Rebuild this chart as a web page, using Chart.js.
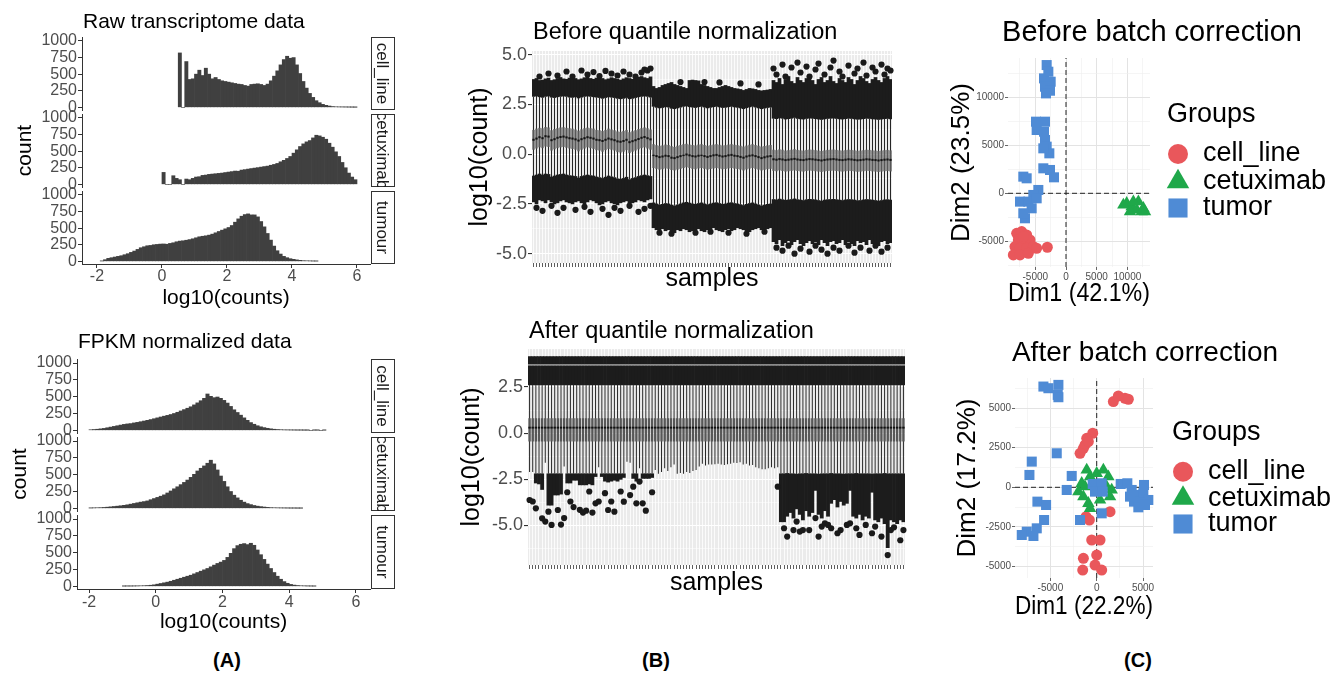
<!DOCTYPE html>
<html>
<head>
<meta charset="utf-8">
<script src="https://cdn.jsdelivr.net/npm/chart.js@4.4.1/dist/chart.umd.min.js"></script>
<style>
  body { margin: 0; width: 1343px; height: 673px; position: relative; overflow: hidden; background: #fff;
         font-family: "Liberation Sans", Arial, sans-serif; }
  canvas { position: absolute; }
  .tag { position: absolute; font-weight: bold; font-size: 20px; transform: translate(-50%, -50%); }
</style>
</head>
<body>
<div class="tag" style="left:227px;top:660px">(A)</div>
<div class="tag" style="left:656px;top:660px">(B)</div>
<div class="tag" style="left:1138px;top:660px">(C)</div>
<script>
console.log("figure start");

/* ---------- (A) histograms: counts per 0.1 bin, first bin centre given ---------- */
const binWidth = 0.1;
const histYTicks = [0, 250, 500, 750, 1000];
const histXTicks = [-2, 0, 2, 4, 6];
const facetNames = ["cell_line", "cetuximab", "tumour"];

const rawStarts = [0.55, 0.05, -1.85];
const rawCellLine = [820, 0, 690, 420, 430, 500, 560, 480, 590, 500,
  430, 450, 420, 400, 390, 380, 370, 360, 350, 345,
  330, 320, 345, 350, 355, 345, 330, 350, 400, 470,
  550, 640, 720, 770, 740, 750, 640, 510, 390, 290,
  210, 150, 100, 70, 45, 30, 20, 12, 8, 6,
  5, 4, 3, 2, 1];
const rawCetuximab = [180, 0, 0, 130, 90, 70, 0, 80, 70, 90,
  110, 115, 135, 140, 150, 155, 160, 165, 170, 178,
  185, 192, 200, 198, 215, 222, 230, 238, 245, 252,
  260, 268, 275, 288, 300, 315, 340, 362, 390, 420,
  470, 520, 570, 610, 640, 660, 700, 740, 730, 710,
  680, 620, 560, 490, 420, 330, 250, 170, 110, 70];
const rawTumour = [5, 25, 45, 55, 65, 75, 85, 100, 115, 135,
  155, 180, 205, 220, 235, 240, 250, 255, 260, 262,
  258, 270, 280, 295, 305, 310, 318, 328, 340, 355,
  370, 378, 385, 395, 410, 430, 450, 470, 490, 510,
  540, 590, 640, 680, 705, 715, 700, 700, 670, 600,
  520, 420, 320, 230, 160, 110, 75, 55, 40, 30,
  22, 15, 10, 8, 6, 4, 3];

const fpkmStarts = [-1.95, -1.95, -0.95];
const fpkmCellLine = [8, 12, 16, 22, 28, 38, 48, 58, 68, 78,
  88, 95, 100, 110, 118, 128, 138, 148, 160, 172,
  185, 198, 210, 222, 235, 250, 268, 288, 308, 328,
  350, 378, 408, 440, 475, 540, 505, 485, 495, 475,
  445, 405, 355, 305, 265, 225, 185, 148, 115, 90,
  68, 52, 40, 30, 22, 16, 12, 9, 6, 5,
  4, 3, 2, 2, 1, 1, 0, 1, 1, 0, 1];
const fpkmCetuximab = [4, 6, 8, 10, 13, 17, 22, 27, 32, 38,
  44, 52, 62, 72, 82, 92, 100, 110, 128, 145,
  162, 180, 200, 228, 258, 290, 320, 352, 385, 420,
  460, 505, 555, 595, 630, 670, 715, 660, 570, 480,
  400, 320, 250, 195, 155, 120, 92, 70, 55, 42,
  32, 25, 19, 14, 10, 8, 6, 5, 4, 3,
  2, 2, 1, 1];
const fpkmTumour = [2, 3, 3, 4, 5, 7, 9, 12, 16, 22,
  32, 42, 52, 62, 75, 90, 105, 120, 135, 150,
  165, 185, 205, 225, 245, 265, 290, 315, 340, 360,
  385, 430, 490, 560, 605, 625, 635, 620, 640, 610,
  540, 470, 400, 330, 265, 205, 150, 105, 70, 45,
  28, 18, 12, 8, 6, 4, 3, 2];

/* ---------- (B) boxplots: 120 samples, 3 batches of 40 ---------- */
const sampleIds = Array.from({ length: 120 }, (_, i) => i + 1);

const beforeMedian = [
  0.72,0.78,0.85,0.8,0.9,0.88,0.7,0.75,0.82,0.86, 0.88,0.84,0.8,0.78,0.74,0.68,0.75,0.8,0.85,0.82,
  0.78,0.72,0.7,0.66,0.72,0.78,0.74,0.7,0.64,0.62, 0.66,0.72,0.6,0.65,0.7,0.76,0.82,0.86,0.8,0.74,
  -0.05,-0.1,-0.15,-0.12,-0.08,-0.1,-0.18,-0.2,-0.15,-0.1, -0.05,-0.02,-0.06,-0.1,-0.12,-0.08,-0.05,-0.1,-0.14,-0.1,
  -0.06,-0.04,-0.08,-0.12,-0.1,-0.06,-0.04,-0.08,-0.1,-0.14, -0.18,-0.12,-0.08,-0.06,-0.1,-0.15,-0.2,-0.16,-0.12,-0.1,
  -0.26,-0.28,-0.25,-0.27,-0.3,-0.28,-0.26,-0.24,-0.27,-0.29, -0.3,-0.27,-0.25,-0.26,-0.28,-0.3,-0.32,-0.29,-0.27,-0.26,
  -0.25,-0.27,-0.29,-0.3,-0.28,-0.26,-0.27,-0.29,-0.31,-0.3, -0.28,-0.26,-0.27,-0.29,-0.3,-0.32,-0.3,-0.28,-0.27,-0.29];
const beforeQ3 = [
  1.22,1.28,1.32,1.3,1.36,1.34,1.2,1.26,1.3,1.34, 1.35,1.32,1.3,1.28,1.24,1.18,1.25,1.3,1.33,1.3,
  1.28,1.22,1.2,1.16,1.22,1.28,1.24,1.2,1.14,1.12, 1.16,1.22,1.1,1.15,1.2,1.26,1.3,1.34,1.3,1.24,
  0.5,0.45,0.42,0.44,0.48,0.46,0.4,0.36,0.42,0.46, 0.5,0.52,0.48,0.46,0.44,0.48,0.5,0.46,0.42,0.45,
  0.48,0.5,0.47,0.44,0.45,0.48,0.5,0.47,0.45,0.42, 0.38,0.43,0.47,0.5,0.46,0.42,0.38,0.41,0.44,0.46,
  0.22,0.2,0.24,0.22,0.18,0.2,0.22,0.25,0.21,0.19, 0.18,0.21,0.23,0.22,0.2,0.18,0.16,0.19,0.21,0.22,
  0.23,0.21,0.19,0.18,0.2,0.22,0.21,0.19,0.17,0.18, 0.2,0.22,0.21,0.19,0.18,0.16,0.18,0.2,0.21,0.19];
const beforeQ1 = [
  0.22,0.28,0.34,0.3,0.38,0.36,0.18,0.24,0.3,0.34, 0.36,0.32,0.28,0.26,0.22,0.14,0.22,0.28,0.34,0.3,
  0.26,0.2,0.18,0.12,0.2,0.26,0.22,0.18,0.1,0.08, 0.12,0.2,0.06,0.12,0.18,0.24,0.3,0.34,0.28,0.22,
  -0.7,-0.74,-0.78,-0.76,-0.72,-0.74,-0.8,-0.82,-0.78,-0.74, -0.7,-0.66,-0.7,-0.74,-0.76,-0.72,-0.7,-0.74,-0.78,-0.75,
  -0.72,-0.7,-0.73,-0.76,-0.75,-0.72,-0.7,-0.73,-0.75,-0.78, -0.82,-0.77,-0.73,-0.7,-0.74,-0.78,-0.82,-0.79,-0.76,-0.74,
  -0.84,-0.86,-0.82,-0.85,-0.88,-0.86,-0.84,-0.82,-0.85,-0.87, -0.88,-0.85,-0.83,-0.84,-0.86,-0.88,-0.9,-0.87,-0.85,-0.84,
  -0.83,-0.85,-0.87,-0.88,-0.86,-0.84,-0.85,-0.87,-0.89,-0.88, -0.86,-0.84,-0.85,-0.87,-0.88,-0.9,-0.88,-0.86,-0.85,-0.87];
const beforeWhiskerHi = [
  2.9,2.92,2.88,2.85,2.9,2.92,2.86,2.84,2.88,2.9, 2.92,2.9,2.86,2.85,2.88,2.82,2.86,2.9,2.92,2.9,
  2.88,2.86,2.84,2.8,2.84,2.88,2.86,2.84,2.8,2.78, 2.8,2.84,2.78,2.8,2.84,2.88,2.9,2.92,2.9,2.86,
  2.4,2.35,2.32,2.34,2.38,2.36,2.3,2.28,2.32,2.36, 2.4,2.42,2.38,2.36,2.34,2.38,2.4,2.36,2.32,2.35,
  2.38,2.4,2.37,2.34,2.35,2.38,2.4,2.37,2.35,2.32, 2.28,2.33,2.37,2.4,2.36,2.32,2.28,2.31,2.34,2.36,
  1.8,1.78,1.82,1.8,1.76,1.78,1.8,1.84,1.79,1.77, 1.76,1.79,1.81,1.8,1.78,1.76,1.74,1.77,1.79,1.8,
  1.81,1.79,1.77,1.76,1.78,1.8,1.79,1.77,1.75,1.76, 1.78,1.8,1.79,1.77,1.76,1.74,1.76,1.78,1.79,1.77];
const beforeWhiskerLo = [
  -1.1,-1.05,-1.0,-1.05,-1.0,-1.02,-1.15,-1.1,-1.05,-1.02, -1.0,-1.05,-1.08,-1.1,-1.12,-1.2,-1.12,-1.08,-1.05,-1.08,
  -1.1,-1.15,-1.18,-1.22,-1.16,-1.1,-1.14,-1.18,-1.24,-1.26, -1.22,-1.16,-1.28,-1.22,-1.18,-1.12,-1.08,-1.05,-1.08,-1.12,
  -2.45,-2.5,-2.55,-2.52,-2.48,-2.5,-2.56,-2.6,-2.55,-2.5, -2.45,-2.42,-2.46,-2.5,-2.52,-2.48,-2.45,-2.5,-2.54,-2.5,
  -2.46,-2.44,-2.48,-2.52,-2.5,-2.46,-2.44,-2.48,-2.5,-2.54, -2.58,-2.52,-2.48,-2.45,-2.5,-2.55,-2.6,-2.56,-2.52,-2.5,
  -2.28,-2.3,-2.26,-2.29,-2.32,-2.3,-2.28,-2.25,-2.29,-2.31, -2.33,-2.29,-2.27,-2.28,-2.3,-2.33,-2.36,-2.31,-2.29,-2.28,
  -2.27,-2.29,-2.31,-2.33,-2.3,-2.28,-2.29,-2.31,-2.34,-2.33, -2.3,-2.28,-2.29,-2.31,-2.33,-2.36,-2.33,-2.3,-2.29,-2.31];
// extent of the dense outlier clouds above / below the whiskers
const beforeOutHi = [
  3.75,3.8,3.7,3.72,3.78,3.82,3.7,3.74,3.8,3.85, 3.78,3.76,3.82,3.86,3.8,3.74,3.78,3.84,3.88,3.8,
  3.76,3.82,3.86,3.8,3.74,3.78,3.84,3.8,3.76,3.72, 3.78,3.84,3.8,3.76,3.82,3.86,3.9,3.84,3.8,3.88,
  3.4,3.3,3.35,3.45,3.5,3.55,3.6,3.5,3.45,3.4, 3.35,3.3,3.7,3.72,3.7,3.68,3.5,3.45,3.4,3.35,
  3.3,3.3,3.35,3.4,3.45,3.4,3.35,3.3,3.28,3.25, 3.2,3.25,3.3,3.28,3.25,3.2,3.18,3.2,3.22,3.25,
  3.7,3.6,3.8,3.5,3.75,3.9,3.65,3.55,3.85,3.7, 3.6,3.8,3.95,3.7,3.5,3.75,3.85,3.6,3.7,3.9,
  3.65,3.55,3.8,3.7,3.6,3.85,3.75,3.5,3.7,3.9, 3.8,3.65,3.55,3.75,3.85,3.7,3.6,3.8,3.9,3.75];
const beforeOutLo = [
  -2.4,-2.5,-2.3,-2.35,-2.45,-2.3,-2.4,-2.5,-2.45,-2.35, -2.3,-2.4,-2.45,-2.5,-2.4,-2.35,-2.45,-2.5,-2.4,-2.3,
  -2.35,-2.45,-2.55,-2.5,-2.4,-2.35,-2.45,-2.5,-2.55,-2.45, -2.4,-2.35,-2.5,-2.45,-2.4,-2.3,-2.35,-2.4,-2.3,-2.25,
  -3.7,-3.8,-3.9,-3.75,-3.85,-3.8,-3.9,-3.95,-3.8,-3.85, -3.75,-3.8,-3.9,-3.85,-3.8,-3.75,-3.85,-3.9,-3.8,-3.75,
  -3.7,-3.8,-3.85,-3.9,-3.8,-3.75,-3.85,-3.8,-3.7,-3.75, -3.8,-3.85,-3.9,-3.8,-3.75,-3.7,-3.8,-3.85,-3.75,-3.7,
  -4.4,-4.5,-4.3,-4.6,-4.45,-4.35,-4.55,-4.4,-4.3,-4.5, -4.6,-4.45,-4.35,-4.5,-4.4,-4.55,-4.3,-4.45,-4.6,-4.4,
  -4.35,-4.5,-4.45,-4.3,-4.55,-4.4,-4.5,-4.6,-4.35,-4.45, -4.4,-4.55,-4.3,-4.5,-4.45,-4.6,-4.4,-4.35,-4.5,-4.45];
const beforeDots = [
  [3,3.9],[6,4.05],[9,3.95],[12,4.15],[14,3.9],[17,4.2],[19,4.0],[21,4.12],[23,3.92],[25,4.18],
  [27,4.05],[29,3.95],[31,4.15],[33,4.0],[35,3.9],[37,4.1],[38,4.25],[39,4.2],[40,4.3],
  [2,-2.7],[4,-2.85],[7,-2.6],[9,-2.95],[11,-2.7],[15,-2.8],[18,-2.65],[20,-2.9],[24,-2.75],[26,-3.05],
  [28,-2.7],[30,-2.85],[33,-2.6],[36,-2.9],[38,-2.75],[40,-2.6],
  [50,3.62],[58,3.62],[63,3.6],[70,3.55],[76,3.5],
  [43,-3.95],[47,-4.0],[55,-3.95],[60,-3.9],[66,-3.95],[72,-4.0],[78,-3.9],
  [81,4.3],[82,4.0],[84,4.5],[85,3.9],[87,4.35],[89,4.6],[90,4.1],[92,4.4],[93,3.9],[95,4.25],
  [96,4.55],[98,4.0],[100,4.35],[101,4.7],[103,4.15],[104,3.9],[106,4.45],[108,4.05],[109,4.3],[111,4.6],
  [112,3.95],[114,4.35],[115,4.15],[117,4.5],[118,4.0],[119,4.3],[120,4.2],
  [82,-4.7],[84,-4.85],[86,-4.6],[88,-5.0],[90,-4.75],[93,-4.9],[95,-4.6],[97,-4.8],[99,-5.0],[101,-4.7],
  [103,-4.85],[106,-4.6],[108,-4.95],[110,-4.7],[113,-4.85],[115,-4.6],[117,-4.9],[119,-4.7]];

// after quantile normalisation every sample shares the same box
const afterQ1 = -0.45, afterMedian = 0.3, afterQ3 = 0.81, afterWhiskerHi = 2.62, afterOutHi = 4.15, afterSeam = 3.7;
const afterWhiskerLo = [
  -2.1,-2.1,-2.2,-2.2,-2.2,-1.6,-2.2,-2.2,-2.2,-2.2, -2.2,-1.8,-2.2,-2.2,-2.2,-2.2,-2.2,-2.2,-2.2,-2.2,
  -2.2,-2.2,-1.85,-2.2,-2.2,-2.2,-2.2,-2.2,-2.2,-2.2, -2.2,-1.55,-1.6,-2.2,-2.2,-1.9,-2.2,-2.2,-2.2,-2.2,
  -2.0,-2.2,-2.1,-1.9,-2.05,-1.85,-1.7,-2.2,-2.15,-2.2, -2.1,-2.15,-2.05,-2.0,-1.8,-1.65,-1.75,-1.7,-1.7,-1.68,
  -1.65,-1.7,-1.72,-1.68,-1.65,-1.6,-1.62,-1.58,-1.7,-1.65, -1.75,-1.72,-1.85,-1.9,-1.95,-1.95,-1.9,-1.85,-1.9,-1.85,
  -2.2,-2.2,-2.18,-2.2,-2.2,-2.22,-2.2,-2.2,-2.18,-2.2, -2.2,-2.2,-2.22,-2.2,-2.2,-2.2,-2.18,-2.2,-2.2,-2.2,
  -2.22,-2.2,-2.2,-2.2,-2.18,-2.2,-2.2,-2.2,-2.2,-2.22, -2.2,-2.2,-2.2,-2.18,-2.2,-2.2,-2.2,-2.2,-2.2,-2.2];
const afterOutLoBatch1 = [null,null,-2.7,-2.75,-3.05,null,-3.9,-3.9,-3.35,-3.35, -3.3,null,-2.7,-2.7,-2.55,-2.55,-2.8,-2.8,-2.8,-2.75,
  -2.8,-2.35,null,-2.35,-2.6,-2.65,-2.6,-2.55,-2.6,-2.5, -2.4,null,null,-2.45,-2.6,null,-2.45,-2.45,-2.45,-2.4];
const afterOutLoBatch3 = [-4.8,-4.8,-4.5,-4.3,-4.6,-4.1,-4.4,-4.7,-4.2,-4.5, -4.3,-3.1,-4.4,-4.6,-4.2,-4.5,-3.8,-3.6,-4.0,-3.7,
  -3.9,-3.8,-3.1,-4.5,-4.6,-4.4,-4.7,-4.5,-4.6,-3.2, -4.7,-4.8,-4.6,-4.9,-6.2,-4.7,-4.8,-4.9,-4.7,-4.8];
const afterOutLo = [...afterOutLoBatch1, ...Array(40).fill(null), ...afterOutLoBatch3];
const afterDots = [
  [1,-3.62],[2,-3.7],[3,-4.07],[5,-4.61],[6,-4.79],[7,-4.25],[8,-4.97],[10,-4.16],[11,-4.95],[12,-4.6],
  [13,-3.2],[14,-3.7],[15,-4.0],[17,-4.15],[18,-4.3],[19,-4.2],[20,-3.16],[21,-4.3],[22,-3.8],[23,-3.7],
  [25,-3.25],[26,-4.16],[27,-3.7],[28,-4.25],[30,-3.16],[31,-3.71],[33,-3.35],[34,-2.9],[35,-3.8],[36,-2.62],
  [37,-3.8],[38,-4.2],[40,-3.2],[80,-2.9],
  [82,-5.15],[83,-5.6],[85,-5.25],[86,-4.79],[87,-5.33],[88,-5.25],[90,-5.25],[92,-4.6],[93,-5.6],[94,-5.06],
  [95,-4.88],[96,-4.97],[97,-5.15],[99,-5.42],[100,-5.25],[102,-4.97],[103,-4.88],[105,-5.15],[106,-5.51],[108,-4.97],
  [110,-5.42],[111,-5.06],[113,-5.6],[115,-6.6],[116,-5.25],[117,-5.1],[119,-5.8],[120,-5.25]];

/* ---------- (C) PCA coordinates ---------- */
const groupNames = ["cell_line", "cetuximab", "tumor"];
const groupColors = ["#E9575B", "#1FA84A", "#4F8BD5"];
const beforeCellLine = [[-8044,-4181],[-7228,-4007],[-6413,-4355],[-7772,-4878],[-6685,-5052],[-5870,-4878],[-8315,-5574],[-7500,-5749],
  [-6413,-5749],[-5326,-5574],[-8587,-6445],[-7500,-6445],[-6141,-6271],[-4783,-5749],[-3044,-5644],[-6957,-4529]];
const beforeCetuximab = [[9892,-1045],[10707,-1394],[11794,-871],[12609,-1568],[11522,-1742],[10435,-1916],[9348,-1219],
  [12337,-1916],[12880,-1916],[10978,-871]];
const beforeTumor = [[-3152,13413],[-2880,12717],[-3587,12020],[-2500,11671],[-3424,11149],[-2609,10731],[-3261,10452],
  [-4891,7491],[-3424,7491],[-4783,6620],[-3587,6445],[-3424,5574],[-3152,4878],[-2717,4181],[-3696,4703],
  [-3696,2613],[-2609,2439],[-1957,1672],[-6957,1742],[-6413,1568],[-4511,348],[-5326,-174],[-7500,-871],
  [-6141,-871],[-5598,-1568],[-6685,-2613],[-6957,-2090],[-4783,-523]];
const afterCellLine = [[1799,5410],[2338,5768],[3057,5620],[3417,5557],[-432,3410],[-1079,3094],[-1259,2673],[-1439,2463],
  [-1799,2147],[-899,2884],[1439,-1537],[-1151,-1852],[-791,-2063],[-540,-3326],[360,-3326],[-1439,-4484],
  [0,-4273],[-1511,-5220],[-180,-4905],[540,-5220]];
const afterCetuximab = [[-1619,253],[-1978,-274],[-1079,1095],[-719,674],[0,884],[719,1095],[1259,674],[1619,-168],
  [1439,-589],[-1439,-589],[-899,-1010],[-719,-1326],[360,-800],[1079,42],[-1259,42]];
const afterTumor = [[-5755,6357],[-5216,6252],[-4137,6462],[-4208,5831],[-4137,5684],[-4316,2147],[-7014,1621],[-7266,779],
  [-2698,716],[-3237,-168],[-6403,-905],[-5467,-1116],[-5683,-2063],[-6475,-2589],[-7554,-2800],[-8093,-3010],
  [-6834,-3073],[-1799,-2063],[540,-1642],[-432,210],[540,253],[-180,-274],[647,-274],[2590,210],[3309,253],
  [3777,-168],[4316,-484],[5036,-379],[5575,-800],[4676,-968],[4029,-905],[4496,-1263],[5215,-1116],[3597,-589],[5108,147]];

/* ---------- shared helpers ---------- */
const FONT = '"Liberation Sans", Arial, sans-serif';
Chart.defaults.font.family = FONT;
Chart.defaults.color = "#4d4d4d";
Chart.defaults.animation = false;
Chart.defaults.events = [];
Chart.defaults.plugins.legend.display = false;
Chart.defaults.plugins.tooltip.enabled = false;

// fixed axis thickness, no automatic label padding
function fit(px) {
  return s => {
    s.paddingLeft = s.paddingRight = s.paddingTop = s.paddingBottom = 0;
    if (s.isHorizontal()) s.height = px; else s.width = px;
  };
}
function setTicks(list) {
  return s => { s.ticks = list.map(v => ({ value: v })); };
}

function mount(plot, m) {
  const c = document.createElement("canvas");
  const left = plot.x - m.l, top = plot.y - m.t;
  const w = plot.w + m.l + m.r, h = plot.h + m.t + m.b;
  c.width = w; c.height = h;
  Object.assign(c.style, { left: left + "px", top: top + "px", width: w + "px", height: h + "px" });
  document.body.appendChild(c);
  return { c, left, top };
}

const legendRadius = { circle: 10, triangle: 13, rect: 13.5 };

// panel background, titles, facet strips and legends
function decor(spec, left, top) {
  return {
    id: "decor",
    beforeDraw(chart) {
      if (!spec.bg) return;
      const { ctx, chartArea: a } = chart;
      ctx.save();
      ctx.fillStyle = spec.bg;
      ctx.fillRect(a.left, a.top, a.right - a.left, a.bottom - a.top);
      ctx.restore();
    },
    afterDraw(chart) {
      const { ctx, chartArea: a } = chart;
      (spec.texts || []).forEach(t => {
        ctx.save();
        ctx.font = (t.weight || "normal") + " " + t.size + "px " + FONT;
        ctx.fillStyle = t.color || "#000";
        ctx.textAlign = t.align || "left";
        ctx.textBaseline = "middle";
        ctx.fillText(t.text, t.x - left, t.y - top);
        ctx.restore();
      });
      if (spec.strip) {
        const x0 = a.right + 1, w = 24, y0 = a.top, h = a.bottom - a.top;
        ctx.save();
        ctx.fillStyle = "#fff";
        ctx.fillRect(x0, y0, w, h);
        ctx.strokeStyle = "#333";
        ctx.lineWidth = 1;
        ctx.strokeRect(x0 + 0.5, y0 + 0.5, w - 1, h - 1);
        ctx.beginPath();
        ctx.rect(x0, y0, w, h);
        ctx.clip();
        ctx.translate(x0 + w / 2, y0 + h / 2);
        ctx.rotate(Math.PI / 2);
        ctx.font = "17px " + FONT;
        ctx.fillStyle = "#1a1a1a";
        ctx.textAlign = "center";
        ctx.textBaseline = "middle";
        ctx.fillText(spec.strip, 0, 1);
        ctx.restore();
      }
      if (spec.legend) {
        const L = spec.legend;
        ctx.save();
        ctx.font = "27px " + FONT;
        ctx.textAlign = "left";
        ctx.textBaseline = "middle";
        ctx.fillStyle = "#000";
        ctx.fillText(L.title, L.x - left, L.y - top);
        chart.data.datasets.filter(d => d.groupItem).forEach((d, i) => {
          ctx.fillStyle = d.backgroundColor;
          Chart.helpers.drawPoint(ctx, { pointStyle: d.pointStyle, radius: legendRadius[d.pointStyle], rotation: 0, borderWidth: 0 },
            L.mx - left, L.ys[i] - top);
          ctx.fillStyle = "#000";
          ctx.fillText(d.label, L.tx - left, L.ys[i] - top);
        });
        ctx.restore();
      }
    }
  };
}

/* ---------- (A) one facet of a histogram ---------- */
function histFacet(o) {
  const { c, left, top } = mount(o.plot, o.m);
  const pts = o.counts.map((n, i) => ({ x: +(o.start + i * binWidth).toFixed(2), y: n }));
  new Chart(c, {
    type: "bar",
    data: { datasets: [{ data: pts, backgroundColor: "#404040", borderWidth: 0, barPercentage: 1, categoryPercentage: 1 }] },
    options: {
      responsive: false,
      layout: { padding: { left: 0, top: o.m.t, right: o.m.r, bottom: o.showX ? 0 : o.m.b } },
      scales: {
        x: {
          type: "linear", display: o.showX, offset: false, min: o.xRange[0], max: o.xRange[1],
          afterFit: fit(o.showX ? o.m.b : 0), afterBuildTicks: setTicks(histXTicks),
          grid: { offset: false, drawOnChartArea: false, tickLength: 4, tickColor: "#333" },
          border: { color: "#333", width: 1 },
          ticks: { font: { size: 16 }, color: "#4d4d4d", padding: o.xTickPad || 0, autoSkip: false, maxRotation: 0, minRotation: 0,
                   callback: v => String(v) },
          title: { display: true, text: "log10(counts)", font: { size: 21 }, color: "#000", padding: { top: 0, bottom: o.xTitlePad || 0 } }
        },
        y: {
          min: -40, max: 1060, afterFit: fit(o.m.l), afterBuildTicks: setTicks(histYTicks),
          grid: { drawOnChartArea: false, tickLength: 4, tickColor: "#333" },
          border: { color: "#333", width: 1 },
          ticks: { font: { size: 16 }, color: "#4d4d4d", padding: 1, autoSkip: false, callback: v => String(v) },
          title: { display: !!o.yTitle, text: o.yTitle || "", font: { size: 21 }, color: "#000", padding: { top: o.yTitlePad || 0, bottom: 0 } }
        }
      }
    },
    plugins: [decor({ strip: o.strip, texts: o.texts }, left, top)]
  });
}

/* ---------- (B) boxplot panel built from floating bars ---------- */
function boxPanel(o) {
  const { c, left, top } = mount(o.plot, o.m);
  const isMajor = v => o.yMajor.includes(v);
  const full = { type: "bar", barPercentage: 1, categoryPercentage: 1, grouped: false, borderWidth: 0 };
  const datasets = [
    { type: "scatter", data: o.dots.map(([s, v]) => ({ x: s, y: v })), pointRadius: 3.1,
      backgroundColor: "#1a1a1a", pointBackgroundColor: "#1a1a1a", pointBorderWidth: 0, borderWidth: 0, order: 0 },
    { ...full, data: o.med.map(v => [v - 0.05, v + 0.05]), backgroundColor: "#111", barPercentage: 0.75, order: 1 },
    { ...full, data: o.q1.map((v, i) => [v, o.q3[i]]), backgroundColor: "#575757", barPercentage: 0.75, order: 2 },
    { ...full, data: o.wLo.map((v, i) => [v, o.wHi[i]]), backgroundColor: "#262626", barThickness: 1, inflateAmount: 0, order: 3 },
    { ...full, data: o.wHi.map((v, i) => o.outHi[i] == null ? null : [v, o.outHi[i]]), backgroundColor: "#1c1c1c", order: 4 },
    { ...full, data: o.wLo.map((v, i) => o.outLo[i] == null ? null : [o.outLo[i], v]), backgroundColor: "#1c1c1c", order: 4 }
  ];
  if (o.seam != null) {
    datasets.push({ ...full, data: sampleIds.map(() => [o.seam - 0.03, o.seam + 0.03]), backgroundColor: "#8a8a8a", order: 3.5 });
  }
  new Chart(c, {
    type: "bar",
    data: { labels: sampleIds, datasets },
    options: {
      responsive: false,
      layout: { padding: { left: 0, top: o.m.t, right: o.m.r, bottom: 0 } },
      scales: {
        x: {
          type: "category", offset: true, afterFit: fit(o.m.b),
          grid: { offset: false, color: "#fff", lineWidth: 0.8, tickColor: "#333", tickLength: 4 },
          border: { display: false },
          ticks: { autoSkip: false, maxRotation: 0, minRotation: 0, padding: 0, font: { size: 1 }, callback: () => "" },
          title: { display: true, text: "samples", font: { size: 25 }, color: "#000", padding: { top: 0, bottom: 0 } }
        },
        y: {
          min: o.yRange[0], max: o.yRange[1], afterFit: fit(o.m.l), afterBuildTicks: setTicks(o.yMajor.concat(o.yMinor)),
          grid: {
            color: "#fff",
            lineWidth: ctx => ctx.tick && isMajor(ctx.tick.value) ? 1.1 : 0.5,
            tickColor: ctx => ctx.tick && isMajor(ctx.tick.value) ? "#333" : "rgba(0,0,0,0)",
            tickLength: 4
          },
          border: { display: false },
          ticks: { font: { size: 18 }, color: "#4d4d4d", padding: 1, autoSkip: false, callback: v => isMajor(v) ? v.toFixed(1) : "" },
          title: { display: true, text: "log10(count)", font: { size: 25 }, color: "#000", padding: { top: o.yTitlePad, bottom: 0 } }
        }
      }
    },
    plugins: [decor({ bg: "#EBEBEB", texts: o.texts }, left, top)]
  });
}

/* ---------- (C) PCA scatter panel ---------- */
function pcaPanel(o) {
  const { c, left, top } = mount(o.plot, o.m);
  const styles = ["circle", "triangle", "rect"];
  const radii = [5.5, 7.2, 7.1];
  const datasets = o.groups.map((pts, g) => ({
    type: "scatter", label: groupNames[g], groupItem: true,
    data: pts.map(([x, y]) => ({ x, y })),
    pointStyle: styles[g], pointRadius: radii[g],
    backgroundColor: groupColors[g], pointBackgroundColor: groupColors[g], pointBorderWidth: 0, borderWidth: 0,
    order: 3 - g, clip: false
  }));
  const dash = { type: "line", borderColor: "#222", borderWidth: 1, borderDash: [5, 3], pointRadius: 0, order: 9 };
  datasets.push({ ...dash, data: [{ x: 0, y: o.yRange[0] }, { x: 0, y: o.yRange[1] }] });
  datasets.push({ ...dash, data: [{ x: o.xRange[0], y: 0 }, { x: o.xRange[1], y: 0 }] });
  const axis = (range, major, minor, extra) => {
    const isMajor = v => major.includes(v);
    return Object.assign({
      type: "linear", min: range[0], max: range[1], afterBuildTicks: setTicks(major.concat(minor)),
      grid: {
        color: ctx => ctx.tick && isMajor(ctx.tick.value) ? "#e3e3e3" : "#efefef",
        lineWidth: ctx => ctx.tick && isMajor(ctx.tick.value) ? 1 : 0.6,
        tickColor: ctx => ctx.tick && isMajor(ctx.tick.value) ? "#666" : "rgba(0,0,0,0)",
        tickLength: 3
      },
      border: { display: false },
      ticks: { font: { size: 10 }, color: "#4d4d4d", autoSkip: false, maxRotation: 0, minRotation: 0, padding: 1,
               callback: v => isMajor(v) ? String(v) : "" }
    }, extra);
  };
  new Chart(c, {
    type: "scatter",
    data: { datasets },
    options: {
      responsive: false,
      layout: { padding: { left: 0, top: o.m.t, right: o.m.r, bottom: 0 } },
      scales: {
        x: axis(o.xRange, o.xMajor, o.xMinor, {
          afterFit: fit(o.m.b),
          title: { display: true, text: o.xTitle, font: { size: 26 }, color: "#000", padding: { top: 0, bottom: 0 } }
        }),
        y: axis(o.yRange, o.yMajor, o.yMinor, {
          afterFit: fit(o.m.l),
          title: { display: true, text: o.yTitle, font: { size: 26 }, color: "#000", padding: { top: o.yTitlePad, bottom: 0 } }
        })
      }
    },
    plugins: [decor({ texts: o.texts, legend: o.legend }, left, top)]
  });
}

/* ---------- build the figure ---------- */
// (A) raw counts
const rawData = [rawCellLine, rawCetuximab, rawTumour];
const rawRows = [37, 114, 191];
rawRows.forEach((y, i) => histFacet({
  plot: { x: 82, y, w: 288, h: 73 },
  m: { l: 80, t: i === 0 ? 37 : 8, r: 28, b: i === 2 ? 48 : 6 },
  counts: rawData[i], start: rawStarts[i], xRange: [-2.46, 6.4],
  strip: facetNames[i], showX: i === 2, xTickPad: -1, xTitlePad: 1.4,
  yTitle: i === 1 ? "count" : null, yTitlePad: 10.4,
  texts: i === 0 ? [{ text: "Raw transcriptome data", x: 83, y: 22, size: 21 }] : []
}));

// (A) FPKM
const fpkmData = [fpkmCellLine, fpkmCetuximab, fpkmTumour];
const fpkmRows = [359, 437, 515];
fpkmRows.forEach((y, i) => histFacet({
  plot: { x: 77, y, w: 293, h: 74 },
  m: { l: 75, t: i === 0 ? 39 : 8, r: 28, b: i === 2 ? 51 : 6 },
  counts: fpkmData[i], start: fpkmStarts[i], xRange: [-2.36, 6.42],
  strip: facetNames[i], showX: i === 2, xTickPad: 0, xTitlePad: 5.4,
  yTitle: i === 1 ? "count" : null, yTitlePad: 5.4,
  texts: i === 0 ? [{ text: "FPKM normalized data", x: 78, y: 342, size: 21 }] : []
}));

// (B) before quantile normalisation
boxPanel({
  plot: { x: 532, y: 51, w: 360, h: 212 }, m: { l: 72, t: 41, r: 8, b: 31 },
  yRange: [-5.47, 5.18], yMajor: [-5, -2.5, 0, 2.5, 5], yMinor: [-3.75, -1.25, 1.25, 3.75], yTitlePad: 5,
  q1: beforeQ1, med: beforeMedian, q3: beforeQ3, wLo: beforeWhiskerLo, wHi: beforeWhiskerHi,
  outLo: beforeOutLo, outHi: beforeOutHi, dots: beforeDots,
  texts: [{ text: "Before quantile normalization", x: 533, y: 33, size: 23.5 }]
});

// (B) after quantile normalisation
boxPanel({
  plot: { x: 528, y: 349, w: 377, h: 216 }, m: { l: 76, t: 39, r: 8, b: 33 },
  yRange: [-7.14, 4.56], yMajor: [-5, -2.5, 0, 2.5], yMinor: [-6.25, -3.75, -1.25, 1.25, 3.75], yTitlePad: 5,
  q1: sampleIds.map(() => afterQ1), med: sampleIds.map(() => afterMedian), q3: sampleIds.map(() => afterQ3),
  wLo: afterWhiskerLo, wHi: sampleIds.map(() => afterWhiskerHi),
  outLo: afterOutLo, outHi: sampleIds.map(() => afterOutHi), dots: afterDots, seam: afterSeam,
  texts: [{ text: "After quantile normalization", x: 529, y: 332, size: 23.5 }]
});

// (C) before batch correction
pcaPanel({
  plot: { x: 1008, y: 58, w: 142, h: 209 }, m: { l: 63, t: 48, r: 193, b: 42 },
  xRange: [-9455, 13692], yRange: [-7709, 14152],
  xMajor: [-5000, 0, 5000, 10000], xMinor: [-7500, -2500, 2500, 7500, 12500],
  yMajor: [-5000, 0, 5000, 10000], yMinor: [-7500, -2500, 2500, 7500, 12500],
  groups: [beforeCellLine, beforeCetuximab, beforeTumor],
  xTitle: "Dim1 (42.1%)", yTitle: "Dim2 (23.5%)", yTitlePad: 1.4,
  texts: [{ text: "Before batch correction", x: 1152, y: 33, size: 29, align: "center" }],
  legend: { title: "Groups", x: 1167, y: 115, mx: 1178, tx: 1203, ys: [154, 181.7, 208] }
});

// (C) after batch correction
pcaPanel({
  plot: { x: 1015, y: 378, w: 138, h: 200 }, m: { l: 70, t: 48, r: 190, b: 44 },
  xRange: [-8824, 6080], yRange: [-5723, 6897],
  xMajor: [-5000, 0, 5000], xMinor: [-7500, -2500, 2500],
  yMajor: [-5000, -2500, 0, 2500, 5000], yMinor: [-3750, -1250, 1250, 3750, 6250],
  groups: [afterCellLine, afterCetuximab, afterTumor],
  xTitle: "Dim1 (22.2%)", yTitle: "Dim2 (17.2%)", yTitlePad: 7.4,
  texts: [{ text: "After batch correction", x: 1145, y: 353, size: 28, align: "center" }],
  legend: { title: "Groups", x: 1172, y: 433, mx: 1183, tx: 1208, ys: [471.7, 498.3, 524] }
});
</script>
</body>
</html>
